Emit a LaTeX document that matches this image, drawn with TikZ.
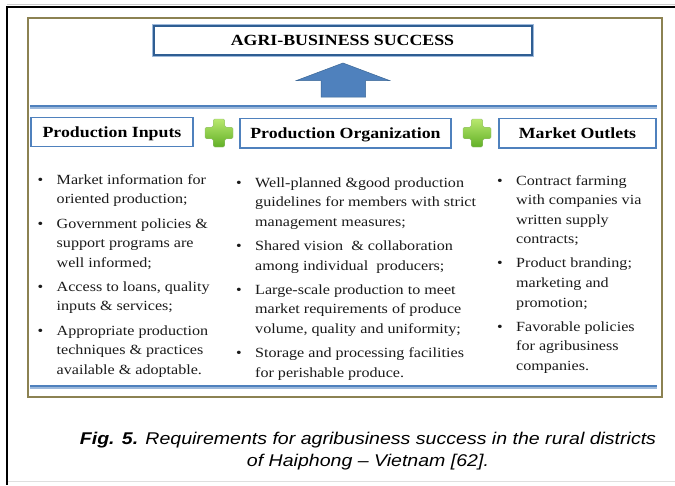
\documentclass[tikz,border=0pt]{standalone}
\usepackage{fontspec}
\setmainfont{Liberation Serif}[FakeStretch=1.15, Ligatures=TeX]
\newfontfamily\capfont{Liberation Sans}[FakeStretch=1.15, Ligatures=TeX]
\usetikzlibrary{shadings}

\definecolor{framegold}{HTML}{8C8252}
\definecolor{boxblue}{HTML}{4F81BD}
\definecolor{darkblue}{HTML}{2F5E93}
\definecolor{paleblue}{HTML}{9DB9DB}
\definecolor{arrowline}{HTML}{3B6796}
\definecolor{greentop}{HTML}{B8E86E}
\definecolor{greenbot}{HTML}{62B027}
\definecolor{bodytext}{HTML}{1A1A1A}

% one bulleted entry; the lines after the first hang under the text
\newcommand\bulletentry[1]{\par\noindent\hangindent=19pt\hangafter=1%
  \makebox[19pt][l]{\textbullet}#1\par}
% a column of entries, its first baseline being the node's baseline
\newenvironment{entrylist}[1]
  {\begin{minipage}[t]{#1}\fontsize{14}{19.6}\selectfont
   \setlength{\parskip}{4.5pt}\setlength{\parindent}{0pt}}
  {\end{minipage}}

\tikzset{
  headbox/.style={draw=boxblue, line width=1.6pt, fill=white,
    inner sep=0pt, text height=10.5pt, text depth=0pt,
    font=\fontsize{15.5}{18}\selectfont\bfseries},
  titlebox/.style={draw=darkblue, line width=2pt, fill=white,
    preaction={draw=paleblue, line width=4pt},
    inner sep=0pt, text height=10.5pt, text depth=0pt,
    font=\fontsize{15.5}{18}\selectfont\bfseries},
  listcol/.style={anchor=base west, inner sep=0pt, text=bodytext},
  separator/.style={line width=1.9pt, draw=boxblue,
    preaction={draw=paleblue, line width=3.6pt, transform canvas={yshift=-0.9pt}}},
  captext/.style={anchor=base, inner sep=0pt,
    font=\capfont\fontsize{17}{21}\selectfont\itshape},
  pics/plussign/.style={code={
    \path[top color=greentop, bottom color=greenbot, draw=greenbot!80!black!60,
      line width=0.3pt, rounded corners=1.5pt]
      (-5.8,-14) -- (5.8,-14) -- (5.8,-5.8) -- (14,-5.8) -- (14,5.8)
      -- (5.8,5.8) -- (5.8,14) -- (-5.8,14) -- (-5.8,5.8) -- (-14,5.8)
      -- (-14,-5.8) -- (-5.8,-5.8) -- cycle;
  }}
}

\begin{document}
\begin{tikzpicture}[x=1pt, y=-1pt]
\useasboundingbox (0,0) rectangle (675,485);
\fill[white] (0,0) rectangle (675,485);

% outer page frame
\draw[gray!40, line width=0.8pt] (7,4.6) -- (675,4.6);
\draw[black, line width=2.2pt] (675,6.6) -- (7,6.6) -- (7,485);
\draw[gray!25, line width=1pt] (8,481.5) -- (675,481.5);

% figure frame
\draw[framegold, line width=2pt] (28,17.5) rectangle (661.5,397);

% goal box and upward arrow
\node[titlebox, minimum width=378pt, minimum height=29pt] (goal) at (342.5,40)
  {AGRI-BUSINESS SUCCESS};
\draw[fill=boxblue, draw=arrowline, line width=0.5pt, line join=miter]
  (296.5,80.5) -- (343,63) -- (389.5,80.5) -- (365.5,80.5) -- (365.5,97)
  -- (321,97) -- (321,80.5) -- cycle;

% separators
\draw[separator] (30,106) -- (657,106);
\draw[separator] (30,386) -- (657,386);

% the three requirement headings
\node[headbox, minimum width=162pt, minimum height=29pt] (inputs) at (112,131.8)
  {Production Inputs};
\node[headbox, minimum width=211pt, minimum height=29.5pt] (organization) at (345.5,133.2)
  {Production Organization};
\node[headbox, minimum width=157pt, minimum height=29.5pt] (outlets) at (577.5,133.2)
  {Market Outlets};

\pic at (219,133) {plussign};
\pic at (477,133) {plussign};

% requirement lists
\node[listcol] (inputlist) at (37.5,184.3) {\begin{entrylist}{200pt}%
  \bulletentry{Market information for\\oriented production;}
  \bulletentry{Government policies \&\\support programs are\\well informed;}
  \bulletentry{Access to loans, quality\\inputs \& services;}
  \bulletentry{Appropriate production\\techniques \& practices\\available \& adoptable.}%
  \end{entrylist}};

\node[listcol] (orglist) at (236,187.3) {\begin{entrylist}{250pt}%
  \bulletentry{Well-planned \&good production\\guidelines for members with strict\\management measures;}
  \bulletentry{Shared vision \ \& collaboration\\among individual \ producers;}
  \bulletentry{Large-scale production to meet\\market requirements of produce\\volume, quality and uniformity;}
  \bulletentry{Storage and processing facilities\\for perishable produce.}%
  \end{entrylist}};

\node[listcol] (outletlist) at (497,185) {\begin{entrylist}{160pt}%
  \bulletentry{Contract farming\\with companies via\\written supply\\contracts;}
  \bulletentry{Product branding;\\marketing and\\promotion;}
  \bulletentry{Favorable policies\\for agribusiness\\companies.}%
  \end{entrylist}};

% caption
\node[captext] (caption1) at (368,444)
  {{\bfseries Fig. 5.} Requirements for agribusiness success in the rural districts};
\node[captext] (caption2) at (368,466)
  {of Haiphong – Vietnam [62].};
\end{tikzpicture}
\end{document}
